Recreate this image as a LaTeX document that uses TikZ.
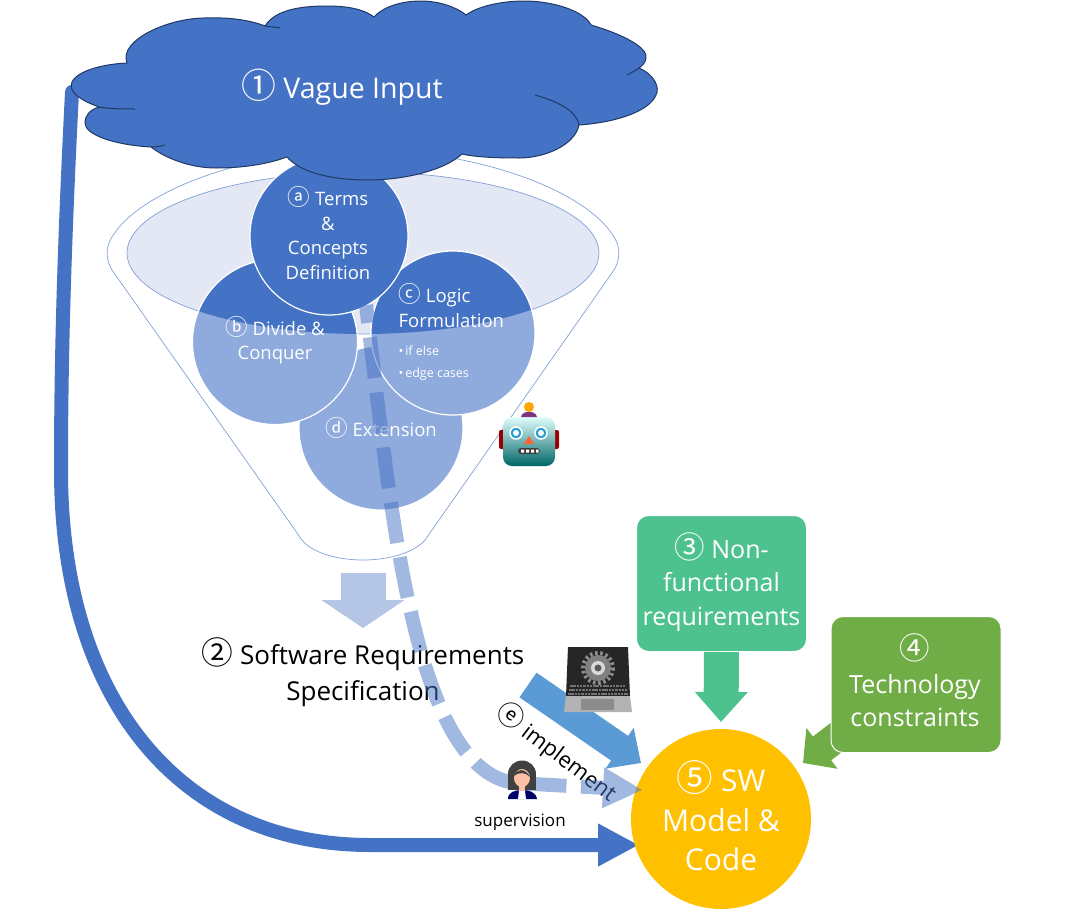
\documentclass[tikz,border=0pt]{standalone}
\usepackage{fontspec}
\setmainfont{Open Sans}
\newfontfamily\circfont[Scale=1.22]{Noto Sans CJK SC}
\usetikzlibrary{arrows.meta,shapes.geometric}
\definecolor{clouddark}{RGB}{68,114,196}
\definecolor{cloudline}{RGB}{32,56,100}
\definecolor{disclight}{RGB}{143,170,220}
\definecolor{funnelfill}{RGB}{228,231,244}
\definecolor{funnelline}{RGB}{130,160,215}
\definecolor{downcolor}{RGB}{180,197,230}
\definecolor{implcolor}{RGB}{91,155,213}
\definecolor{nfcolor}{RGB}{78,194,142}
\definecolor{techcolor}{RGB}{112,173,71}
\definecolor{modelcolor}{RGB}{255,192,0}
\newcommand{\circled}[1]{{\circfont #1}}

\begin{document}
\begin{tikzpicture}[x=1pt,y=-1pt,font=\fontsize{19}{24}\selectfont]
\tikzset{
  disc/.style={circle, draw=white, line width=1.2pt, inner sep=0pt, minimum size=#1},
  disclabel/.style={text=white, align=center, font=\fontsize{18.5}{24.5}\selectfont},
  boxlabel/.style={text=white, align=center, font=\fontsize{25}{33.5}\selectfont},
  greenbox/.style={rectangle, rounded corners=12pt, draw=white, line width=1pt, inner sep=0pt, minimum width=170pt, minimum height=136pt},
}
\useasboundingbox (0,0) rectangle (1080,913);

% funnel body and its rim
\draw [funnelline, line width=.7pt] (112,270) .. controls (106,260) and (105,248) .. (112,237)
  .. controls (140,190) and (250,150) .. (363,150) .. controls (476,150) and (586,190) .. (614,237)
  .. controls (621,248) and (620,260) .. (614,270) -- (425,540)
  .. controls (415,552) and (390,560) .. (363,560) .. controls (336,560) and (311,552) .. (302,540) -- cycle;
\draw [funnelline, fill=funnelfill, line width=.7pt] (363,253) ellipse (236 and 81);

% four discs, darker where the rim covers them
\node [disc=164pt, fill=disclight] (d) at (381,428) {};
\node [disc=165pt, fill=disclight] (b) at (275,342) {};
\node [disc=164pt, fill=disclight] (c) at (453,333) {};
\begin{scope}
  \clip (363,253) ellipse (236 and 81);
  \node [disc=165pt, fill=clouddark] (bdark) at (275,342) {};
  \node [disc=164pt, fill=clouddark] (cdark) at (453,333) {};
\end{scope}
\node [disc=158pt, fill=clouddark] (a) at (329,236) {};

\node [disclabel] (alabel) at (328,233) {\circled{ⓐ} Terms\\\&\\Concepts\\Definition};
\node [disclabel] (blabel) at (275,340) {\circled{ⓑ} Divide \&\\Conquer};
\node [disclabel, anchor=west, align=left] (clabel) at (395,305.5) {\circled{ⓒ} Logic\\Formulation};
\node [text=white, anchor=west, align=left, font=\fontsize{12.5}{22}\selectfont] (cbullets) at (395,363) {•\,if else\\•\,edge cases};
\node [disclabel] (dlabel) at (381,428) {\circled{ⓓ} Extension};

% supervision line leaves the cloud, so it goes in first
\coordinate (cloudleft) at (72,92);
\coordinate (superend) at (639,845);
\draw [-{Triangle[length=41pt,width=40pt]}, clouddark, line width=14pt, line cap=round] (cloudleft)
  .. controls (64,250) and (61,360) .. (61,470) .. controls (61,700) and (180,845) .. (370,845) -- (superend);

% the cloud on top
\draw [fill=clouddark, draw=cloudline, line width=1pt] (99,107) .. controls (80,100) and (68,92) .. (72,82)
  .. controls (78,70) and (105,64) .. (127,63) .. controls (118,40) and (170,17) .. (208,18)
  .. controls (235,17) and (255,22) .. (265,26) .. controls (275,10) and (300,6) .. (327,6)
  .. controls (350,6) and (365,10) .. (374,17) .. controls (385,5) and (405,1) .. (421,1)
  .. controls (440,1) and (458,8) .. (466,15) .. controls (480,5) and (505,1) .. (524,1)
  .. controls (555,1) and (585,12) .. (591,25) .. controls (625,35) and (648,48) .. (646,58)
  .. controls (646,62) and (642,66) .. (639,68) .. controls (655,75) and (660,88) .. (656,95)
  .. controls (650,110) and (620,122) .. (579,125) .. controls (575,145) and (545,158) .. (519,158)
  .. controls (495,158) and (475,157) .. (462,154) .. controls (445,170) and (405,180) .. (368,180)
  .. controls (330,180) and (300,172) .. (287,157) .. controls (265,165) and (240,168) .. (216,168)
  .. controls (190,168) and (165,158) .. (151,147) .. controls (115,145) and (85,135) .. (85,123)
  .. controls (85,115) and (90,110) .. (99,107) -- cycle;
\draw [cloudline, line width=1pt] (99,107) .. controls (110,109) and (125,109) .. (135,109);
\draw [cloudline, line width=1pt] (151,147) .. controls (156,147) and (162,146) .. (165,145);
\draw [cloudline, line width=1pt] (535,95) .. controls (560,102) and (577,112) .. (579,125);
\draw [cloudline, line width=1pt] (639,68) .. controls (635,71) and (631,73) .. (627,75);
\draw [cloudline, line width=1pt] (265,26) .. controls (270,27) and (275,27) .. (280,28);
\node [text=white, font=\fontsize{28.5}{30}\selectfont] (vague) at (342,87) {\circled{①} Vague Input};

% texts and boxes
\node [align=center, font=\fontsize{26}{36}\selectfont] (srs) at (363,672) {\circled{②} Software Requirements\\Specification};
\coordinate (techtail) at (850,727);
\coordinate (techtip) at (803,763);
\draw [-{Triangle[length=24pt,width=50pt]}, techcolor, line width=30pt] (techtail) -- (techtip);
\node [greenbox, fill=nfcolor] (nf) at (721.5,583.5) {};
\node [boxlabel] (nflabel) at (721.5,582) {\circled{③} Non-\\functional\\requirements};
\node [greenbox, fill=techcolor] (tech) at (916,684.5) {};
\node [boxlabel] (techlabel) at (915,680.5) {\circled{④}\\Technology\\constraints};
\node [circle, fill=modelcolor, inner sep=0pt, minimum size=180pt] (model) at (721,819) {};
\node [text=white, align=center, font=\fontsize{30}{39.5}\selectfont] (modellabel) at (721,816) {\circled{⑤} SW\\Model \&\\Code};
\node [font=\fontsize{17}{20}\selectfont] (superv) at (520,822) {supervision};
\node [rotate=-37, font=\fontsize{22}{26}\selectfont] (impl) at (557,752) {\circled{ⓔ} implement};

%connect
\coordinate (funnelout) at (363,573);
\coordinate (downtip) at (363,628);
\coordinate (dashstart) at (366,305);
\coordinate (dashend) at (643,790);
\coordinate (impltail) at (528,685);
\coordinate (impltip) at (641,763);
\coordinate (nftip) at (721,722);
\draw [-{Triangle[length=28pt,width=82pt]}, downcolor, line width=45pt] (funnelout) -- (downtip);
\begin{scope}[transparency group, opacity=.5]
\draw [-{Triangle[length=40pt,width=38pt]}, clouddark, line width=14pt, dash pattern=on 41pt off 14.5pt, dash phase=23pt]
  (dashstart) .. controls (390,500) and (412,770) .. (515,783) -- (dashend);
\end{scope}
\draw [-{Triangle[length=26pt,width=48pt]}, implcolor, line width=30pt] (impltail) -- (impltip);
\draw [-{Triangle[length=30pt,width=51pt]}, nfcolor, line width=35pt] (nf.south) -- (nftip);

% robot next to the funnel
\fill [red!60!black, rounded corners=2pt] (499,430) rectangle (559,449);
\shade [top color=black!5!cyan!12, bottom color=teal!80!black, rounded corners=9pt] (503,417) rectangle (555,466);
\fill [violet!60!gray] (521,417) .. controls (522,410) and (536,410) .. (537,417) -- cycle;
\fill [orange!70!yellow] (529,407) circle (5);
\fill [cyan!70!teal, draw=white, line width=1.5pt] (516,433) circle (6);
\fill [cyan!70!teal, draw=white, line width=1.5pt] (541,433) circle (6);
\fill [white] (516,433) circle (3) (541,433) circle (3);
\fill [red!55!orange!80] (529,436) -- (524,444) -- (534,444) -- cycle;
\fill [black!75, rounded corners=3pt] (518,448) rectangle (540,454);
\fill [white] (521,449.5) rectangle (524,452.5) (526,449.5) rectangle (529,452.5) (531,449.5) rectangle (534,452.5) (536,449.5) rectangle (538.5,452.5);

% laptop
\fill [black!85] (568,647) -- (628,647) -- (630,696) -- (566,696) -- cycle;
\fill [black!50] (598,668) circle (13);
\draw [black!45, line width=4pt, dash pattern=on 2.6pt off 2.6pt] (598,668) circle (15);
\fill [black!15] (598,668) circle (7);
\fill [black!65] (598,668) circle (3.5);
\draw [black!55, line width=1.2pt, dash pattern=on 2.5pt off .8pt] (570,686) -- (626,686) (569,690) -- (627,690) (568,694) -- (628,694);
\fill [black!30] (566,696) -- (630,696) -- (632,712) -- (564,712) -- cycle;
\fill [black!45] (581,699) rectangle (614,710);

% woman at the dashed line
\fill [black!75] (522,774) ellipse (14 and 13.5);
\fill [black!75] (508,774) rectangle (536,790);
\fill [blue!40!black] (508,799) .. controls (508,792) and (515,790) .. (522,790) .. controls (529,790) and (536,792) .. (537,799) -- cycle;
\fill [white] (519,791) -- (525,791) -- (526,799) -- (518,799) -- cycle;
\fill [orange!25!pink!80!white] (519,784) rectangle (525,791);
\fill [orange!25!pink!80!white] (522,778) ellipse (8 and 9);
\fill [black!75] (514,776) .. controls (516,768) and (526,768) .. (530,777) .. controls (526,772) and (518,772) .. (514,776) -- cycle;
\end{tikzpicture}
\end{document}
